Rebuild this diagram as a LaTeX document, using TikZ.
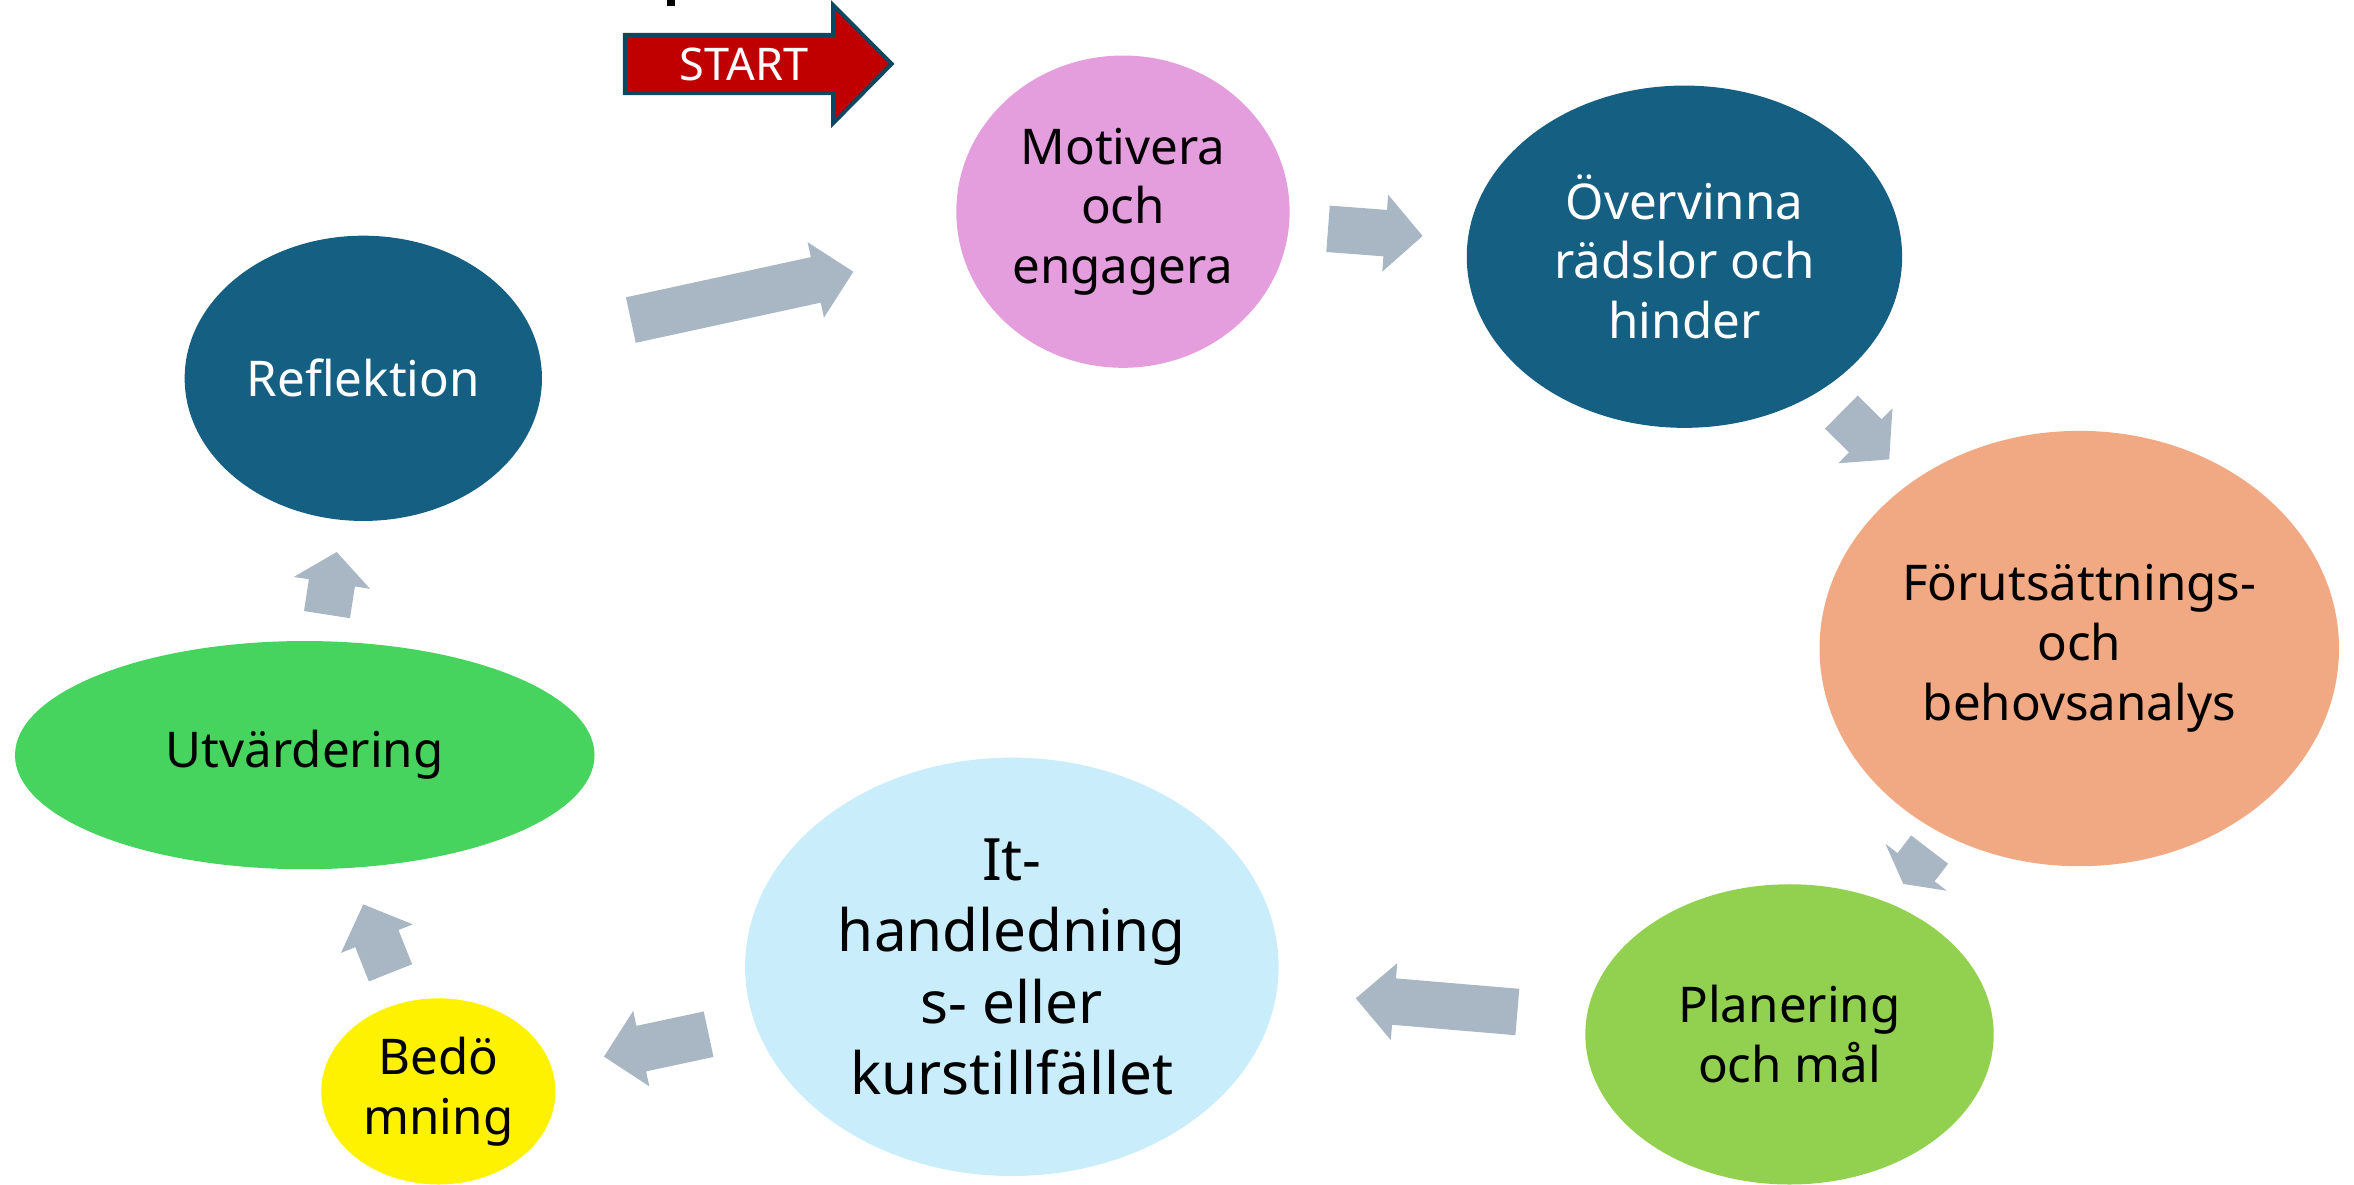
\documentclass[tikz,border=0pt]{standalone}
\usepackage{fontspec}
\setmainfont{Noto Sans}
\usetikzlibrary{shapes.geometric,calc}
\definecolor{arrowgray}{HTML}{A9B6C3}
\definecolor{tealdark}{HTML}{156082}
\definecolor{pinkfill}{HTML}{E49EDD}
\definecolor{salmon}{HTML}{F1A983}
\definecolor{greenplan}{HTML}{92D050}
\definecolor{lightblue}{HTML}{CAEDFB}
\definecolor{greenutv}{HTML}{47D45E}
\definecolor{startred}{HTML}{C00000}
\definecolor{startborder}{HTML}{0F4761}
\newcommand\blockarr[3]{%
  \coordinate (#1-n) at ($(#2)!#3!(#1)$);
  \fill[arrowgray] ($(#1)!2.325mm!90:(#2)$) -- ($(#1-n)!2.325mm!90:(#2)$)
    -- ($(#1-n)!3.855mm!90:(#2)$) -- (#2) -- ($(#1-n)!3.855mm!-90:(#2)$)
    -- ($(#1-n)!2.325mm!-90:(#2)$) -- ($(#1)!2.325mm!-90:(#2)$) -- cycle;}
\tikzset{
  stage/.style={ellipse, inner sep=0pt, align=center, draw=none,
    font={\fontsize{14}{17}\selectfont}},
}
\begin{document}
\begin{tikzpicture}[x=0.15mm, y=-0.15mm]
\useasboundingbox (0,0) rectangle (1568,789.3);
\clip (0,0) rectangle (1568,789.3);
% stray glyph fragment at top
\fill[black] (444,0) rectangle (449.6,4);
% START arrow
\draw[fill=startred, draw=startborder, line width=0.4mm, line join=miter]
  (416.3,23.3) -- (554.9,23.3) -- (554.9,3.3) -- (593.9,42.6) -- (554.9,82.1)
  -- (554.9,62) -- (416.3,62) -- cycle;
\node[text=white, font={\fontsize{12.8}{15}\selectfont}] (start) at (495.7,42.6) {START};
% stages
\node[stage, fill=pinkfill, minimum width=33.3mm, minimum height=31.2mm] (mot) at (748,141) {Motivera\\och\\engagera};
\node[stage, fill=tealdark, text=white, minimum width=43.5mm, minimum height=34.2mm] (over) at (1122,171) {Övervinna\\rädslor och\\hinder};
\node[stage, fill=salmon, minimum width=51.9mm, minimum height=43.5mm] (forut) at (1385,432) {Förutsättnings-\\och\\behovsanalys};
\node[stage, fill=greenplan, minimum width=40.8mm, minimum height=30mm] (plan) at (1192,689) {Planering\\och mål};
\node[stage, fill=lightblue, minimum width=53.3mm, minimum height=41.8mm, font={\fontsize{16.6}{20.3}\selectfont}] (it) at (674,644) {It-\\handledning\\s- eller\\kurstillfället};
\node[stage, fill=yellow, minimum width=23.4mm, minimum height=18.6mm] (bed) at (292,727) {Bedö\\mning};
\node[stage, fill=greenutv, minimum width=57.9mm, minimum height=22.8mm] (utv) at (203,503) {Utvärdering};
\node[stage, fill=tealdark, text=white, minimum width=35.7mm, minimum height=28.5mm] (ref) at (242,252) {Reflektion};
% connector arrows
\coordinate (a1t) at (420.2,213.2); \coordinate (a1h) at (568.4,181);
\coordinate (a2t) at (884.6,152.4); \coordinate (a2h) at (947.6,157.2);
\coordinate (a3t) at (1226.5,274.5); \coordinate (a3h) at (1258.4,306);
\coordinate (a4t) at (1285.3,565.9); \coordinate (a4h) at (1267.8,588.8);
\coordinate (a5t) at (1010.7,674.1); \coordinate (a5h) at (903.1,665);
\coordinate (a6t) at (472,688.9); \coordinate (a6h) at (402.3,703.8);
\coordinate (a7t) at (260.1,648); \coordinate (a7h) at (242,602.4);
\coordinate (a8t) at (217.8,409.4); \coordinate (a8h) at (224.3,367.7);
\blockarr{a1t}{a1h}{3.84mm}
\blockarr{a2t}{a2h}{3.75mm}
\blockarr{a3t}{a3h}{3.35mm}
\blockarr{a4t}{a4h}{2.1mm}
\blockarr{a5t}{a5h}{3.83mm}
\blockarr{a6t}{a6h}{3.81mm}
\blockarr{a7t}{a7h}{3.68mm}
\blockarr{a8t}{a8h}{3.12mm}
\end{tikzpicture}
\end{document}
